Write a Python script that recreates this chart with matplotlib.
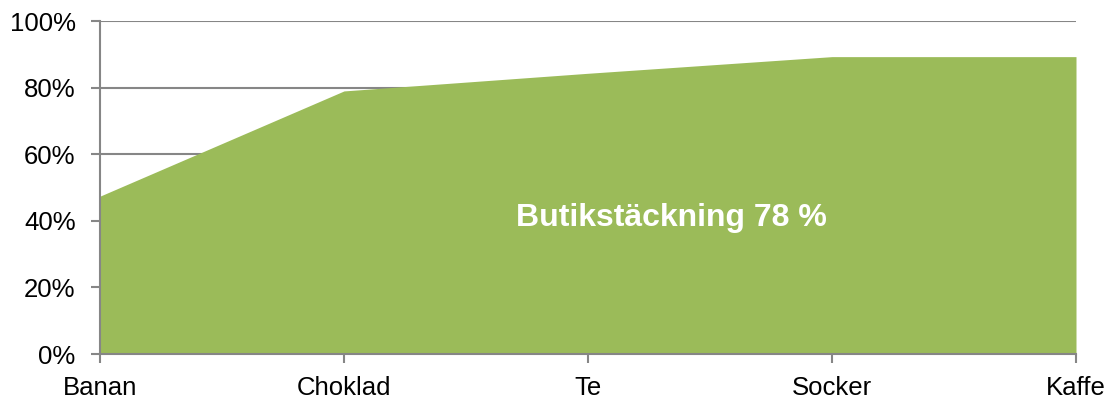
import matplotlib
matplotlib.use("Agg")
import matplotlib.pyplot as plt
from matplotlib.ticker import FuncFormatter

# Data
products = ["Banan", "Choklad", "Te", "Socker", "Kaffe"]
coverage = [47.4, 79.0, 84.3, 89.3, 89.3]
label_text = "Butikstäckning 78 %"

plt.rcParams['font.family'] = ['Liberation Sans', 'DejaVu Sans']

fig = plt.figure(figsize=(11.14, 4.05), dpi=100)
ax = fig.add_axes([100 / 1114, 1 - 354 / 405, 976 / 1114, 333 / 405])

grey = "#868686"
xs = list(range(len(products)))
ax.fill_between(xs, coverage, 0, color="#9BBB59", linewidth=0, zorder=2)

ax.set_xlim(0, len(products) - 1)
ax.set_ylim(0, 100)
ax.set_xticks(xs)
ax.set_xticklabels(products)
ax.set_yticks([0, 20, 40, 60, 80, 100])
ax.yaxis.set_major_formatter(FuncFormatter(lambda v, pos: f"{int(v)}%"))

# gridlines behind the area
ax.grid(axis="y", color=grey, linewidth=1.5, zorder=0)
ax.set_axisbelow(True)

for side in ["top", "right"]:
    ax.spines[side].set_visible(False)
for side in ["left", "bottom"]:
    ax.spines[side].set_color(grey)
    ax.spines[side].set_linewidth(1.5)
    ax.spines[side].set_zorder(3)

ax.tick_params(axis="both", colors=grey, width=1.5, length=6.5, labelsize=18.5,
               labelcolor="black")
ax.tick_params(axis="y", pad=11)
ax.tick_params(axis="x", pad=9)

ax.text(2.34, 40.8, label_text, color="white", fontsize=23, fontweight="bold",
        ha="center", va="center", zorder=4)

fig.savefig("out.png", dpi=100)
